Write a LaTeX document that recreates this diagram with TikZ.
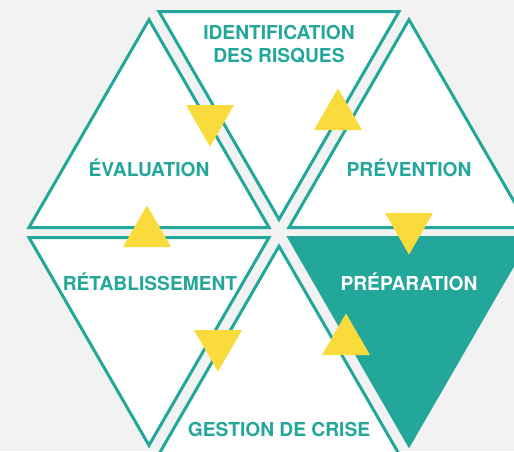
\documentclass[tikz,border=0pt]{standalone}
\usepackage{fontspec}
\setsansfont{TeX Gyre Heros}
\usepackage{tikz}
\usepackage{xcolor}
\definecolor{teal}{HTML}{22A79A}
\definecolor{sun}{HTML}{F9DC3C}
\definecolor{paper}{HTML}{F2F2F2}
\tikzset{
    tri/.style={draw=teal,line width=2.25pt,fill=white,line join=miter},
    marker/.style={fill=sun},
    lbl/.style={anchor=base,align=center,text=teal,font=\sffamily\bfseries\fontsize{14.4}{17.3}\selectfont},
}

\begin{document}
\begin{tikzpicture}[x=0.75pt,y=-0.75pt]
        \useasboundingbox (0,0) rectangle (514,451);
        \fill[paper] (0,0) rectangle (514,451);
        \clip (0,0) rectangle (514,451);
        % six triangles of the hexagon
        \draw[tri] (159,11.5) -- (399,11.5) -- (279,219.3) -- cycle;
        \draw[tri] (29,227.5) -- (269,227.5) -- (149,19.7) -- cycle;
        \draw[tri] (289,227.5) -- (529,227.5) -- (409,19.7) -- cycle;
        \draw[tri] (29,237.5) -- (269,237.5) -- (149,445.3) -- cycle;
        \draw[tri,fill=teal] (289,237.5) -- (529,237.5) -- (409,445.3) -- cycle;
        \draw[tri] (159,454) -- (399,454) -- (279,246.2) -- cycle;
        % yellow markers
        \fill[marker] (186,105) -- (234,105) -- (210,146.6) -- cycle;
        \fill[marker] (314,130) -- (362,130) -- (338,88.4) -- cycle;
        \fill[marker] (385,213) -- (433,213) -- (409,254.6) -- cycle;
        \fill[marker] (322,355) -- (370,355) -- (346,313.4) -- cycle;
        \fill[marker] (194,330) -- (242,330) -- (218,371.6) -- cycle;
        \fill[marker] (123,247) -- (171,247) -- (147,205.4) -- cycle;
        % labels
        \node[lbl] (ident) at (279,62.5) {IDENTIFICATION\\DES RISQUES};
        \node[lbl] (eval) at (149,176.5) {ÉVALUATION};
        \node[lbl] (prev) at (409,176.5) {PRÉVENTION};
        \node[lbl] (retab) at (150,290) {RÉTABLISSEMENT};
        \node[lbl,text=white] (prep) at (409,290) {PRÉPARATION};
        \node[lbl] (crise) at (279,436) {GESTION DE CRISE};
    \end{tikzpicture}
\end{document}
